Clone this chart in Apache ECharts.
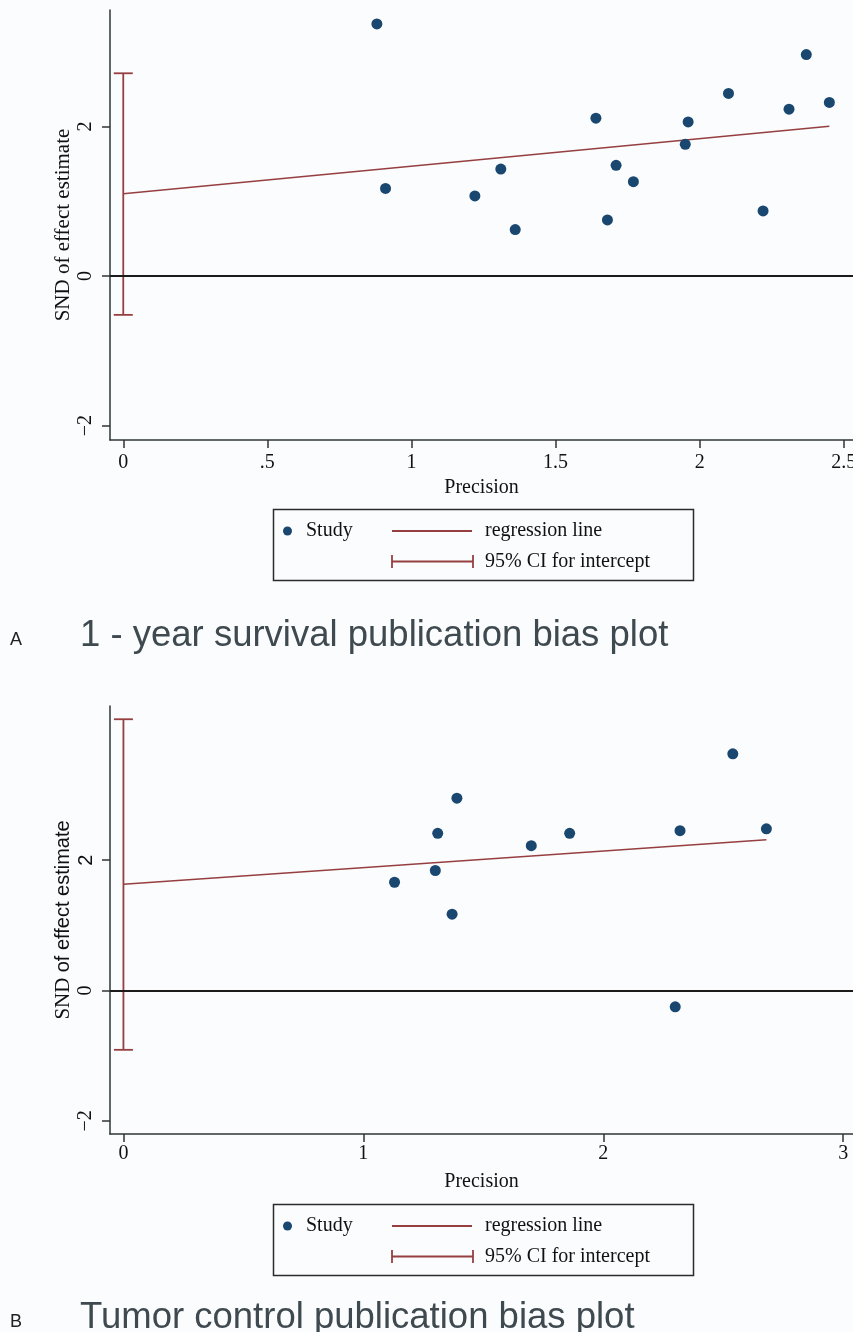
<!DOCTYPE html>
<html>
<head>
<meta charset="utf-8">
<title>Publication bias plots</title>
<script src="https://cdn.jsdelivr.net/npm/echarts@6/dist/echarts.min.js"></script>
<style>
  html, body { margin: 0; padding: 0; background: #fbfcfd; }
  #chart { width: 853px; height: 1332px; }
</style>
</head>
<body>
<div id="chart"></div>
<script>
// A: 1-year survival
const precisionA = [0.88, 0.91, 1.22, 1.31, 1.36, 1.64, 1.68, 1.71, 1.77, 1.95, 1.96, 2.10, 2.22, 2.31, 2.37, 2.45];
const sndA = [3.37, 1.17, 1.07, 1.43, 0.62, 2.11, 0.75, 1.48, 1.26, 1.76, 2.06, 2.44, 0.87, 2.23, 2.96, 2.32];
const regA = [1.10, 0.368]; // intercept, slope
const ciA = [-0.52, 2.71];
const xTicksA = [0, 0.5, 1, 1.5, 2, 2.5];
const yTicksA = [-2, 0, 2];

// B: tumor control
const precisionB = [1.13, 1.39, 1.31, 1.30, 1.37, 1.70, 1.86, 2.32, 2.30, 2.54, 2.68];
const sndB = [1.66, 2.95, 2.41, 1.84, 1.17, 2.22, 2.41, 2.45, -0.25, 3.63, 2.48];
const regB = [1.63, 0.254];
const ciB = [-0.91, 4.16];
const xTicksB = [0, 1, 2, 3];
const yTicksB = [-2, 0, 2];

const NAVY = '#1a476f';
const MAROON = '#963f41';
const AXIS = '#2e3634';
const SERIF = 'Liberation Serif';
const SANS = 'Liberation Sans';

const chart = echarts.init(document.getElementById('chart'));

function minus(v) {
  return v < 0 ? '\u2212' + Math.abs(v) : String(v);
}

function xAxis(gridIndex, min, max, ticks, margin) {
  return {
    type: 'value',
    gridIndex: gridIndex,
    min: min,
    max: max,
    axisLine: { show: true, onZero: false, lineStyle: { color: AXIS, width: 1.5 } },
    axisTick: { show: true, length: 8, customValues: ticks, lineStyle: { color: AXIS, width: 1.5 } },
    axisLabel: {
      customValues: ticks,
      margin: margin,
      color: '#111',
      fontFamily: SERIF,
      fontSize: 20,
      formatter: function(v) { return String(v).replace(/^0\./, '.') }
    },
    splitLine: { show: false },
    name: 'Precision',
    nameLocation: 'middle',
    nameGap: 38,
    nameMoveOverlap: false,
    nameTextStyle: { color: '#111', fontFamily: SERIF, fontSize: 20 }
  };
}

function yAxis(gridIndex, min, max, ticks, labelFmt, name) {
  return {
    type: 'value',
    gridIndex: gridIndex,
    min: min,
    max: max,
    axisLine: { show: true, onZero: false, lineStyle: { color: AXIS, width: 1.5 } },
    axisTick: { show: true, length: 8, customValues: ticks, lineStyle: { color: AXIS, width: 1.5 } },
    axisLabel: {
      customValues: ticks,
      rotate: 90,
      margin: 14,
      color: '#111',
      fontFamily: SERIF,
      fontSize: 20,
      formatter: labelFmt,
      rich: { s: { fontFamily: SANS, fontSize: 20, color: '#111' } }
    },
    splitLine: { show: false },
    name: name,
    nameLocation: 'middle',
    nameRotate: 90,
    nameGap: 36,
    nameMoveOverlap: false,
    nameTextStyle: {
      color: '#111',
      fontFamily: SERIF,
      fontSize: 21,
      rich: {
        a: { fontFamily: SERIF, fontSize: 21, color: '#111' },
        b: { fontFamily: SANS, fontSize: 20, color: '#111' }
      }
    }
  };
}

function ciItem(params, api) {
  const top = api.coord([api.value(0), api.value(2)]);
  const bot = api.coord([api.value(0), api.value(1)]);
  const half = 9.5;
  const style = { stroke: MAROON, lineWidth: 1.8 };
  return {
    type: 'group',
    children: [
      { type: 'line', shape: { x1: top[0], y1: top[1], x2: bot[0], y2: bot[1] }, style: style },
      { type: 'line', shape: { x1: top[0] - half, y1: top[1], x2: top[0] + half, y2: top[1] }, style: style },
      { type: 'line', shape: { x1: bot[0] - half, y1: bot[1], x2: bot[0] + half, y2: bot[1] }, style: style }
    ]
  };
}

function panelSeries(idx, xs, ys, reg, ci) {
  const xEnd = Math.max.apply(null, xs);
  return [
    {
      name: 'Study',
      type: 'scatter',
      xAxisIndex: idx,
      yAxisIndex: idx,
      symbolSize: 11,
      itemStyle: { color: NAVY, opacity: 1 },
      data: xs.map(function(x, i) { return [x, ys[i]] }),
      z: 4,
      markLine: {
        silent: true,
        symbol: 'none',
        label: { show: false },
        lineStyle: { color: '#1b1b1b', width: 2, type: 'solid' },
        data: [{ yAxis: 0 }]
      }
    },
    {
      name: 'regression line',
      type: 'line',
      xAxisIndex: idx,
      yAxisIndex: idx,
      showSymbol: false,
      lineStyle: { color: MAROON, width: 1.6 },
      data: [[0, reg[0]], [xEnd, reg[0] + reg[1] * xEnd]],
      z: 3
    },
    {
      name: '95% CI for intercept',
      type: 'custom',
      xAxisIndex: idx,
      yAxisIndex: idx,
      renderItem: ciItem,
      encode: { x: 0, y: [1, 2] },
      data: [[0, ci[0], ci[1]]],
      z: 3
    }
  ];
}

function legendBox(top) {
  const r1 = top + 21.5;
  const r2 = top + 52;
  const txt = { fill: '#111', fontFamily: SERIF, fontSize: 20, verticalAlign: 'middle' };
  const ln = { stroke: MAROON, lineWidth: 1.8 };
  return [
    { type: 'rect', shape: { x: 273.5, y: top, width: 420, height: 71 }, style: { fill: null, stroke: '#2b2b2b', lineWidth: 1.5 } },
    { type: 'circle', shape: { cx: 287.5, cy: r1, r: 4.5 }, style: { fill: NAVY } },
    { type: 'text', x: 306, y: r1, style: Object.assign({ text: 'Study' }, txt) },
    { type: 'line', shape: { x1: 392, y1: r1, x2: 472, y2: r1 }, style: ln },
    { type: 'text', x: 485, y: r1, style: Object.assign({ text: 'regression line' }, txt) },
    { type: 'line', shape: { x1: 392, y1: r2, x2: 473, y2: r2 }, style: ln },
    { type: 'line', shape: { x1: 392, y1: r2 - 6.5, x2: 392, y2: r2 + 6.5 }, style: ln },
    { type: 'line', shape: { x1: 473, y1: r2 - 6.5, x2: 473, y2: r2 + 6.5 }, style: ln },
    { type: 'text', x: 485, y: r2, style: Object.assign({ text: '95% CI for intercept' }, txt) }
  ];
}

function heading(letter, text, y) {
  return [
    { type: 'text', x: 10, y: y + 4, style: { text: letter, fill: '#222', fontFamily: SANS, fontSize: 18, verticalAlign: 'middle' } },
    { type: 'text', x: 80, y: y, style: { text: text, fill: '#3f4a50', fontFamily: SANS, fontSize: 36.5, verticalAlign: 'middle' } }
  ];
}

const option = {
  animation: false,
  backgroundColor: '#fbfcfd',
  grid: [
    { left: 110, top: 10, width: 743, height: 430, containLabel: false, outerBoundsMode: 'none' },
    { left: 110, top: 706, width: 743, height: 428, containLabel: false, outerBoundsMode: 'none' }
  ],
  xAxis: [
    xAxis(0, -0.046, 2.532, xTicksA, 13),
    xAxis(1, -0.056, 3.041, xTicksB, 10)
  ],
  yAxis: [
    yAxis(0, -2.193, 3.556, yTicksA, minus, 'SND of effect estimate'),
    yAxis(1, -2.201, 4.363, yTicksB, function(v) { return v === 2 ? '{s|2}' : minus(v) }, '{a|SND} {b|of effect estimate}')
  ],
  series: panelSeries(0, precisionA, sndA, regA, ciA).concat(panelSeries(1, precisionB, sndB, regB, ciB)),
  graphic: legendBox(509.5)
    .concat(legendBox(1204.5))
    .concat(heading('A', '1 - year survival publication bias plot', 636))
    .concat(heading('B', 'Tumor control publication bias plot', 1318))
};

chart.setOption(option);
</script>
</body>
</html>
